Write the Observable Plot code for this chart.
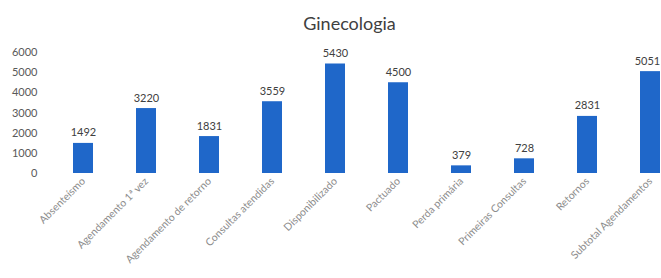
<!DOCTYPE html>
<html>
<head>
<meta charset="utf-8">
<script src="https://cdn.jsdelivr.net/npm/d3@7"></script>
<script src="https://cdn.jsdelivr.net/npm/@observablehq/plot@0.6"></script>
<style>
  html, body { margin: 0; padding: 0; background: #fff; overflow: hidden; }
  #title { height: 40px; line-height: 46px; text-align: center; font-family: Lato, "Open Sans", sans-serif; font-size: 18px; color: #404040; padding-left: 38px; }
</style>
</head>
<body>
<div id="title">Ginecologia</div>
<div id="chart"></div>
<script>
const categories = ["Absenteísmo", "Agendamento 1ª vez", "Agendamento de retorno", "Consultas atendidas", "Disponibilizado", "Pactuado", "Perda primária", "Primeiras Consultas", "Retornos", "Subtotal Agendamentos"];
const values = [1492, 3220, 1831, 3559, 5430, 4500, 379, 728, 2831, 5051];
const yTicks = [0, 1000, 2000, 3000, 4000, 5000, 6000];

const data = categories.map((c, i) => ({category: c, value: values[i]}));
const lastIndex = data.length - 1;

const chart = Plot.plot({
  width: 661,
  height: 238,
  marginTop: 12,
  marginBottom: 105,
  marginLeft: 50,
  marginRight: 0,
  style: {fontFamily: "Lato, 'Open Sans', sans-serif", fontSize: "11px", color: "#595959", overflow: "visible"},
  x: {domain: categories, range: [50, 683], paddingInner: 0.68, paddingOuter: 0.34, label: null},
  y: {domain: [0, 6000], label: null},
  marks: [
    Plot.axisY({ticks: yTicks, tickFormat: d => String(d), tickSize: 0, tickPadding: 13, label: null, fill: "#595959", fontSize: 11}),
    Plot.axisX({tickSize: 0, tickPadding: 6, tickRotate: -45, label: null, fill: "#8c8c8c", fontSize: 10.5}),
    Plot.barY(data, {x: "category", y: "value", fill: "#1f67c9"}),
    Plot.text(data, {filter: (d, i) => i !== lastIndex, x: "category", y: "value", text: d => String(d.value), dy: -7, lineAnchor: "bottom", fill: "#404040", fontSize: 11}),
    Plot.text(data, {filter: (d, i) => i === lastIndex, x: "category", y: "value", text: d => String(d.value), dy: -7, dx: -3, lineAnchor: "bottom", fill: "#404040", fontSize: 11})
  ]
});
document.getElementById("chart").appendChild(chart);
</script>
</body>
</html>
